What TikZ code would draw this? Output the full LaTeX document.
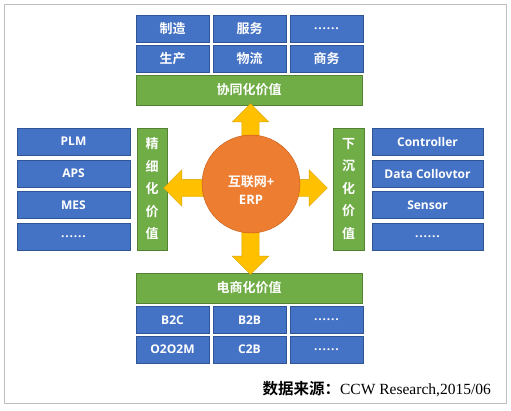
\documentclass[tikz,border=0pt]{standalone}
\usepackage{fontspec}
\setmainfont{Open Sans}
\newfontfamily\cjk{Noto Sans CJK SC}[BoldFont={Noto Sans CJK SC Bold}]
\newfontfamily\serifen{Liberation Serif}
\usetikzlibrary{shapes.arrows}
\definecolor{boxblue}{HTML}{4472C4}
\definecolor{boxblueline}{HTML}{2F5597}
\definecolor{bargreen}{HTML}{70AD47}
\definecolor{bargreenline}{HTML}{548235}
\definecolor{coreorange}{HTML}{ED7D31}
\definecolor{coreline}{HTML}{C55A11}
\definecolor{arrowgold}{HTML}{FFC000}
\definecolor{arrowline}{HTML}{D9A300}
\definecolor{framegray}{HTML}{BFBFBF}
\newcommand\sixdots{.\kern.8pt.\kern.8pt.\kern.8pt.\kern.8pt.\kern.8pt.}
\newcommand\zh{\cjk\fontsize{13}{15}\selectfont}

\begin{document}
\begin{tikzpicture}[x=1pt,y=-1pt,
  bluebox/.style={draw=boxblueline,fill=boxblue,text=white,inner sep=0pt,
    minimum height=27pt,font=\bfseries\fontsize{12}{14}\selectfont},
  greenbar/.style={draw=bargreenline,fill=bargreen,text=white,inner sep=0pt,
    align=center,font=\cjk\bfseries\fontsize{13}{22.5}\selectfont},
  fatarrow/.style={single arrow,draw=arrowline,fill=arrowgold,inner xsep=0pt,
    inner ysep=8.5pt,single arrow head extend=9.5pt}]
  \useasboundingbox (0,0) rectangle (511,410);
  \draw[framegray] (4,4) rectangle (506,403);

  % top block
  \foreach \n/\x/\y/\lab in {t1/172.5/28.5/\zh 制造,t2/249.5/28.5/\zh 服务,t3/326.5/28.5/\sixdots,
      t4/172.5/58.5/\zh 生产,t5/249.5/58.5/\zh 物流,t6/326.5/58.5/\zh 商务}
    \node[bluebox,minimum width=73pt] (\n) at (\x,\y) {\lab};
  \node[greenbar,minimum width=226pt,minimum height=30pt] (topbar) at (249,90) {协同化价值};

  % bottom block
  \node[greenbar,minimum width=226pt,minimum height=30pt] (botbar) at (249,288) {电商化价值};
  \foreach \n/\x/\y/\lab in {b1/172.5/320/B2C,b2/249.5/320/B2B,b3/326.5/320/\sixdots,
      b4/172.5/349.5/O2O2M,b5/249.5/349.5/C2B,b6/326.5/349.5/\sixdots}
    \node[bluebox,minimum width=73pt] (\n) at (\x,\y) {\lab};

  % left block
  \node[greenbar,minimum width=30pt,minimum height=122pt] (leftbar) at (152,189) {精\\细\\化\\价\\值};
  \foreach \n/\y/\lab in {l1/141.5/PLM,l2/173.5/APS,l3/205/MES,l4/236.5/\sixdots}
    \node[bluebox,minimum width=113pt] (\n) at (73.5,\y) {\lab};

  % right block
  \node[greenbar,minimum width=31pt,minimum height=122pt] (rightbar) at (348.5,189) {下\\沉\\化\\价\\值};
  \foreach \n/\y/\lab in {r1/141.5/Controller,r2/173.5/Data Collovtor,r3/205/Sensor,r4/236.5/\sixdots}
    \node[bluebox,minimum width=111pt] (\n) at (427.5,\y) {\lab};

  % arrows and core
  \node[fatarrow,rotate=90,minimum height=42pt] (aup) at (250.5,129) {};
  \node[fatarrow,rotate=-90,minimum height=50pt] (adown) at (250.5,245) {};
  \node[fatarrow,rotate=180,minimum height=47pt] (aleft) at (191.5,188) {};
  \node[fatarrow,minimum height=38pt] (aright) at (304,188) {};
  \node[circle,draw=coreline,fill=coreorange,minimum size=98pt,inner sep=0pt] (core) at (251,184) {};
  \node[text=white,align=center,font=\bfseries\fontsize{13}{18}\selectfont]
    (coretext) at ([yshift=-6pt]core.center) {{\zh\bfseries 互联网}+\\ERP};

  % source
  \node[anchor=base east,inner sep=0pt,font=\fontsize{15.5}{18}\selectfont] (src) at (491,394)
    {{\cjk\bfseries 数据来源：}{\serifen CCW Research,2015/06}};
\end{tikzpicture}
\end{document}
